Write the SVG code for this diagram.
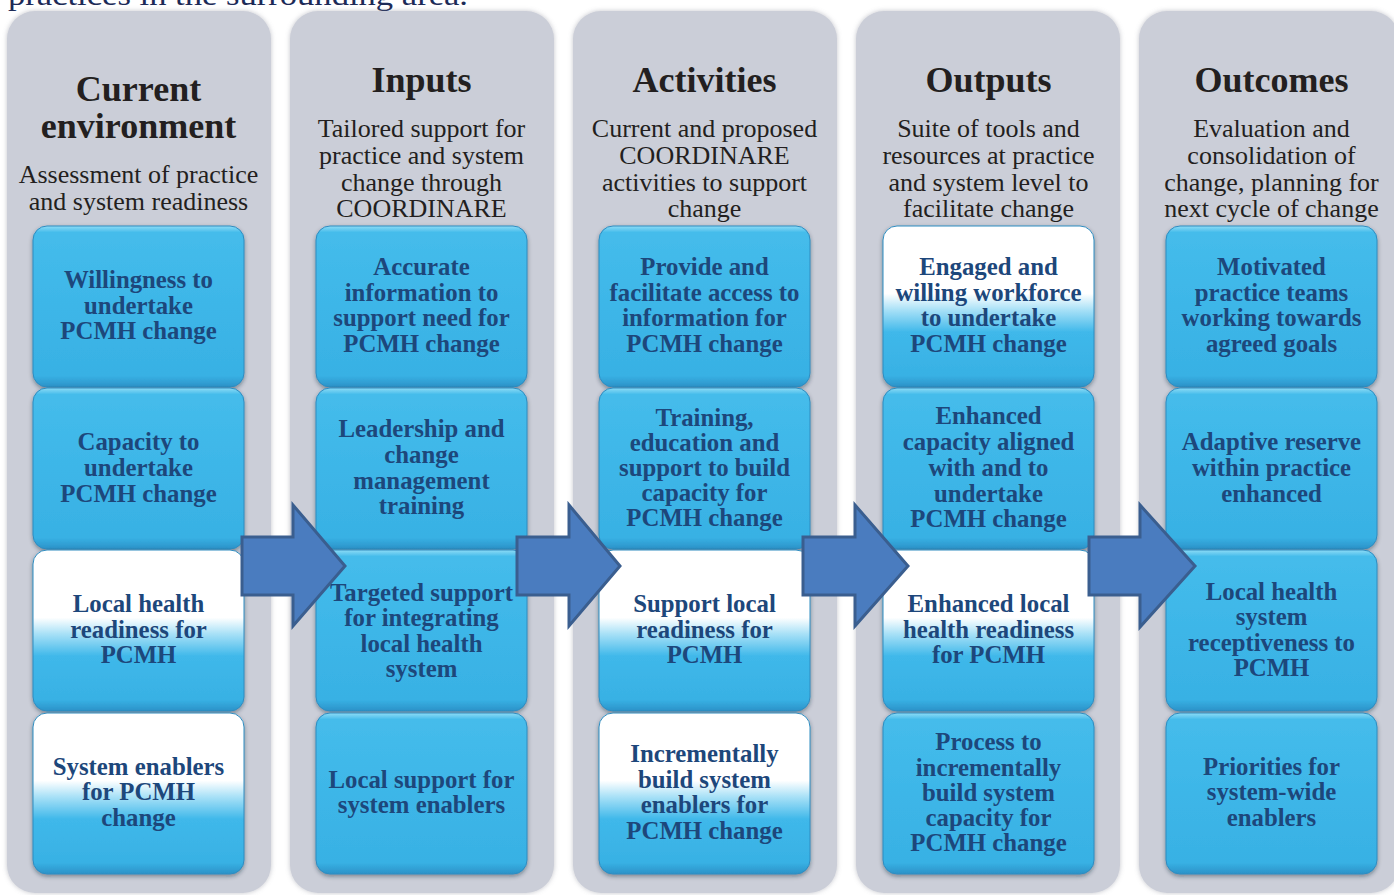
<svg xmlns="http://www.w3.org/2000/svg" width="1394" height="895" viewBox="0 0 1394 895">
  <style>
    .panel { fill: #cbced8; }
    .box { stroke: #2f8cc0; stroke-width: 1; filter: url(#boxShadow); }
    .blue { fill: url(#blueFill); }
    .white { fill: url(#whiteFill); }
    .head { font-family: "Liberation Serif", "Times New Roman", serif; font-weight: bold; font-size: 36px; fill: #231f20; text-anchor: middle; }
    .sub { font-family: "Liberation Serif", "Times New Roman", serif; font-size: 26px; fill: #231f20; text-anchor: middle; }
    .lbl { font-family: "Liberation Serif", "Times New Roman", serif; font-weight: bold; font-size: 24.8px; fill: #1d477b; text-anchor: middle; }
    .cap { font-family: "Liberation Serif", "Times New Roman", serif; font-size: 30px; fill: #1c2a57; }
    .arrow { fill: #4a7cbf; stroke: #3a5e8f; stroke-width: 3; stroke-linejoin: miter; }
  </style>
  <defs>
    <linearGradient id="blueFill" x1="0" y1="0" x2="0" y2="1">
      <stop offset="0" stop-color="#8edcf6"/>
      <stop offset="0.04" stop-color="#45bceb"/>
      <stop offset="0.5" stop-color="#3db6e8"/>
      <stop offset="0.93" stop-color="#38b1e4"/>
      <stop offset="1" stop-color="#2b92c8"/>
    </linearGradient>
    <linearGradient id="whiteFill" x1="0" y1="0" x2="0" y2="1">
      <stop offset="0" stop-color="#ffffff"/>
      <stop offset="0.42" stop-color="#ffffff"/>
      <stop offset="0.52" stop-color="#a9e1f7"/>
      <stop offset="0.66" stop-color="#3fb8ea"/>
      <stop offset="0.93" stop-color="#38b1e4"/>
      <stop offset="1" stop-color="#2b92c8"/>
    </linearGradient>
    <filter id="boxShadow" x="-10%" y="-10%" width="120%" height="125%">
      <feDropShadow dx="0" dy="2" stdDeviation="2" flood-color="#1a2a3a" flood-opacity="0.45"/>
    </filter>
    <filter id="panelShadow" x="-10%" y="-5%" width="120%" height="110%">
      <feDropShadow dx="0" dy="0" stdDeviation="2.5" flood-color="#7a7f8c" flood-opacity="0.45"/>
    </filter>
  </defs>

  <rect width="1394" height="895" fill="#ffffff"/>

  <!-- running text from the page above, clipped by the top edge -->
  <text class="cap" x="8" y="5" textLength="460" lengthAdjust="spacingAndGlyphs">practices in the surrounding area.</text>

  <!-- column panels -->
  <g id="panels" filter="url(#panelShadow)">
    <rect class="panel" x="7" y="11" width="264" height="882" rx="28"/>
    <rect class="panel" x="290" y="11" width="264" height="882" rx="28"/>
    <rect class="panel" x="573" y="11" width="264" height="882" rx="28"/>
    <rect class="panel" x="856" y="11" width="264" height="882" rx="28"/>
    <rect class="panel" x="1139" y="11" width="260" height="882" rx="28"/>
  </g>

  <!-- column headings -->
  <g id="head-current">
    <text class="head" x="138.5" y="101">Current</text>
    <text class="head" x="138.5" y="138">environment</text>
    <text class="sub" x="138.5" y="182.5">Assessment of practice</text>
    <text class="sub" x="138.5" y="209.5">and system readiness</text>
  </g>
  <g id="head-inputs">
    <text class="head" x="421.5" y="92">Inputs</text>
    <text class="sub" x="421.5" y="137">Tailored support for</text>
    <text class="sub" x="421.5" y="164">practice and system</text>
    <text class="sub" x="421.5" y="190.5">change through</text>
    <text class="sub" x="421.5" y="217">COORDINARE</text>
  </g>
  <g id="head-activities">
    <text class="head" x="704.5" y="92">Activities</text>
    <text class="sub" x="704.5" y="137">Current and proposed</text>
    <text class="sub" x="704.5" y="164">COORDINARE</text>
    <text class="sub" x="704.5" y="190.5">activities to support</text>
    <text class="sub" x="704.5" y="217">change</text>
  </g>
  <g id="head-outputs">
    <text class="head" x="988.5" y="92">Outputs</text>
    <text class="sub" x="988.5" y="137">Suite of tools and</text>
    <text class="sub" x="988.5" y="164">resources at practice</text>
    <text class="sub" x="988.5" y="190.5">and system level to</text>
    <text class="sub" x="988.5" y="217">facilitate change</text>
  </g>
  <g id="head-outcomes">
    <text class="head" x="1271.5" y="92">Outcomes</text>
    <text class="sub" x="1271.5" y="137">Evaluation and</text>
    <text class="sub" x="1271.5" y="164">consolidation of</text>
    <text class="sub" x="1271.5" y="190.5">change, planning for</text>
    <text class="sub" x="1271.5" y="217">next cycle of change</text>
  </g>

  <!-- Current environment -->
  <g id="ce-willingness">
    <rect class="box blue" x="33" y="226" width="211" height="161" rx="14"/>
    <text class="lbl" x="138.5" y="288">Willingness to</text>
    <text class="lbl" x="138.5" y="314">undertake</text>
    <text class="lbl" x="138.5" y="339">PCMH change</text>
  </g>
  <g id="ce-capacity">
    <rect class="box blue" x="33" y="388" width="211" height="161" rx="14"/>
    <text class="lbl" x="138.5" y="450">Capacity to</text>
    <text class="lbl" x="138.5" y="476">undertake</text>
    <text class="lbl" x="138.5" y="502">PCMH change</text>
  </g>
  <g id="ce-local">
    <rect class="box white" x="33" y="550" width="211" height="161" rx="14"/>
    <text class="lbl" x="138.5" y="612">Local health</text>
    <text class="lbl" x="138.5" y="638">readiness for</text>
    <text class="lbl" x="138.5" y="663">PCMH</text>
  </g>
  <g id="ce-enablers">
    <rect class="box white" x="33" y="713" width="211" height="161" rx="14"/>
    <text class="lbl" x="138.5" y="775">System enablers</text>
    <text class="lbl" x="138.5" y="800">for PCMH</text>
    <text class="lbl" x="138.5" y="826">change</text>
  </g>

  <!-- Inputs -->
  <g id="in-information">
    <rect class="box blue" x="316" y="226" width="211" height="161" rx="14"/>
    <text class="lbl" x="421.5" y="275">Accurate</text>
    <text class="lbl" x="421.5" y="301">information to</text>
    <text class="lbl" x="421.5" y="326">support need for</text>
    <text class="lbl" x="421.5" y="352">PCMH change</text>
  </g>
  <g id="in-leadership">
    <rect class="box blue" x="316" y="388" width="211" height="161" rx="14"/>
    <text class="lbl" x="421.5" y="437">Leadership and</text>
    <text class="lbl" x="421.5" y="463">change</text>
    <text class="lbl" x="421.5" y="489">management</text>
    <text class="lbl" x="421.5" y="514">training</text>
  </g>
  <g id="in-targeted">
    <rect class="box blue" x="316" y="550" width="211" height="161" rx="14"/>
    <text class="lbl" x="421.5" y="601">Targeted support</text>
    <text class="lbl" x="421.5" y="626">for integrating</text>
    <text class="lbl" x="421.5" y="652">local health</text>
    <text class="lbl" x="421.5" y="677">system</text>
  </g>
  <g id="in-local-support">
    <rect class="box blue" x="316" y="713" width="211" height="161" rx="14"/>
    <text class="lbl" x="421.5" y="788">Local support for</text>
    <text class="lbl" x="421.5" y="813">system enablers</text>
  </g>

  <!-- Activities -->
  <g id="ac-access">
    <rect class="box blue" x="599" y="226" width="211" height="161" rx="14"/>
    <text class="lbl" x="704.5" y="275">Provide and</text>
    <text class="lbl" x="704.5" y="301">facilitate access to</text>
    <text class="lbl" x="704.5" y="326">information for</text>
    <text class="lbl" x="704.5" y="352">PCMH change</text>
  </g>
  <g id="ac-training">
    <rect class="box blue" x="599" y="388" width="211" height="161" rx="14"/>
    <text class="lbl" x="704.5" y="426">Training,</text>
    <text class="lbl" x="704.5" y="451">education and</text>
    <text class="lbl" x="704.5" y="476">support to build</text>
    <text class="lbl" x="704.5" y="501">capacity for</text>
    <text class="lbl" x="704.5" y="526">PCMH change</text>
  </g>
  <g id="ac-readiness">
    <rect class="box white" x="599" y="550" width="211" height="161" rx="14"/>
    <text class="lbl" x="704.5" y="612">Support local</text>
    <text class="lbl" x="704.5" y="638">readiness for</text>
    <text class="lbl" x="704.5" y="663">PCMH</text>
  </g>
  <g id="ac-enablers">
    <rect class="box white" x="599" y="713" width="211" height="161" rx="14"/>
    <text class="lbl" x="704.5" y="762">Incrementally</text>
    <text class="lbl" x="704.5" y="788">build system</text>
    <text class="lbl" x="704.5" y="813">enablers for</text>
    <text class="lbl" x="704.5" y="839">PCMH change</text>
  </g>

  <!-- Outputs -->
  <g id="out-workforce">
    <rect class="box white" x="883" y="226" width="211" height="161" rx="14"/>
    <text class="lbl" x="988.5" y="275">Engaged and</text>
    <text class="lbl" x="988.5" y="301">willing workforce</text>
    <text class="lbl" x="988.5" y="326">to undertake</text>
    <text class="lbl" x="988.5" y="352">PCMH change</text>
  </g>
  <g id="out-capacity">
    <rect class="box blue" x="883" y="388" width="211" height="161" rx="14"/>
    <text class="lbl" x="988.5" y="424">Enhanced</text>
    <text class="lbl" x="988.5" y="450">capacity aligned</text>
    <text class="lbl" x="988.5" y="476">with and to</text>
    <text class="lbl" x="988.5" y="502">undertake</text>
    <text class="lbl" x="988.5" y="527">PCMH change</text>
  </g>
  <g id="out-readiness">
    <rect class="box white" x="883" y="550" width="211" height="161" rx="14"/>
    <text class="lbl" x="988.5" y="612">Enhanced local</text>
    <text class="lbl" x="988.5" y="638">health readiness</text>
    <text class="lbl" x="988.5" y="663">for PCMH</text>
  </g>
  <g id="out-process">
    <rect class="box blue" x="883" y="713" width="211" height="161" rx="14"/>
    <text class="lbl" x="988.5" y="750">Process to</text>
    <text class="lbl" x="988.5" y="776">incrementally</text>
    <text class="lbl" x="988.5" y="801">build system</text>
    <text class="lbl" x="988.5" y="826">capacity for</text>
    <text class="lbl" x="988.5" y="851">PCMH change</text>
  </g>

  <!-- Outcomes -->
  <g id="oc-teams">
    <rect class="box blue" x="1166" y="226" width="211" height="161" rx="14"/>
    <text class="lbl" x="1271.5" y="275">Motivated</text>
    <text class="lbl" x="1271.5" y="301">practice teams</text>
    <text class="lbl" x="1271.5" y="326">working towards</text>
    <text class="lbl" x="1271.5" y="352">agreed goals</text>
  </g>
  <g id="oc-reserve">
    <rect class="box blue" x="1166" y="388" width="211" height="161" rx="14"/>
    <text class="lbl" x="1271.5" y="450">Adaptive reserve</text>
    <text class="lbl" x="1271.5" y="476">within practice</text>
    <text class="lbl" x="1271.5" y="502">enhanced</text>
  </g>
  <g id="oc-receptiveness">
    <rect class="box blue" x="1166" y="550" width="211" height="161" rx="14"/>
    <text class="lbl" x="1271.5" y="600">Local health</text>
    <text class="lbl" x="1271.5" y="625">system</text>
    <text class="lbl" x="1271.5" y="651">receptiveness to</text>
    <text class="lbl" x="1271.5" y="676">PCMH</text>
  </g>
  <g id="oc-priorities">
    <rect class="box blue" x="1166" y="713" width="211" height="161" rx="14"/>
    <text class="lbl" x="1271.5" y="775">Priorities for</text>
    <text class="lbl" x="1271.5" y="800">system-wide</text>
    <text class="lbl" x="1271.5" y="826">enablers</text>
  </g>

  <!-- block arrows between columns -->
  <g id="connectors">
    <path class="arrow" d="M242,537 H293 V505 L345,566 L293,626 V595 H242 Z"/>
    <path class="arrow" d="M517,537 H569 V505 L620,566 L569,626 V595 H517 Z"/>
    <path class="arrow" d="M803,537 H855 V505 L908,566 L855,626 V595 H803 Z"/>
    <path class="arrow" d="M1089,537 H1140 V505 L1195,566 L1140,627 V595 H1089 Z"/>
  </g>
</svg>
